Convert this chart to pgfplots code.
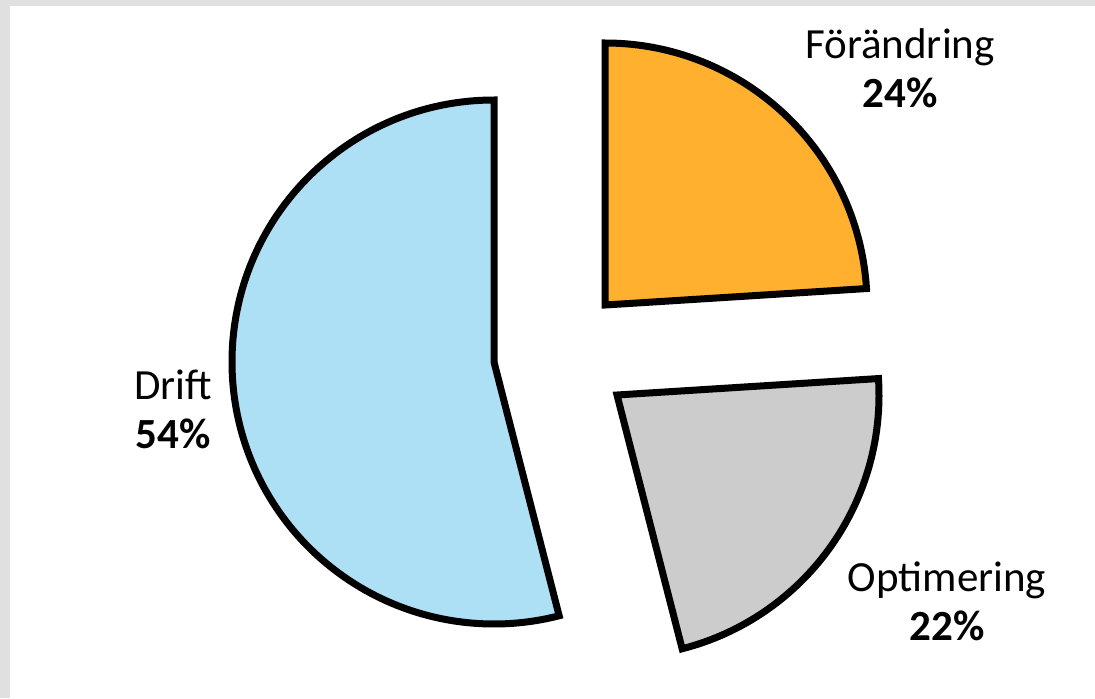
\documentclass[border=0pt]{standalone}
\usepackage{pgfplots}
\pgfplotsset{compat=1.18}
\usepackage{fontspec}
\setmainfont{Carlito}
\definecolor{bgray}{RGB}{224,224,224}
\definecolor{cdrift}{RGB}{174,224,245}
\definecolor{cforand}{RGB}{255,176,46}
\definecolor{coptim}{RGB}{204,204,204}
\begin{document}
\begin{tikzpicture}
\begin{axis}[
  scale only axis, width=547.5pt, height=349pt,
  xmin=0, xmax=1095, ymin=0, ymax=698,
  hide axis, clip=false,
]
% background
\fill[bgray] (axis cs:0,0) rectangle (axis cs:1095,698);
\fill[white] (axis cs:10,0) rectangle (axis cs:1095,692);
% slices: Drift 54%, Förändring 24%, Optimering 22% (radius 262 px = 131pt)
\filldraw[fill=cdrift, draw=black, line width=3.5pt]
  (axis cs:494,336) -- ++(90:131pt) arc[start angle=90, end angle=284.4, radius=131pt] -- cycle;
\filldraw[fill=cforand, draw=black, line width=3.5pt]
  (axis cs:605,393) -- ++(90:131pt) arc[start angle=90, end angle=3.6, radius=131pt] -- cycle;
\filldraw[fill=coptim, draw=black, line width=3.5pt]
  (axis cs:617,303) -- ++(3.6:131pt) arc[start angle=3.6, end angle=-75.6, radius=131pt] -- cycle;
% labels
\node[align=center, font=\fontsize{21.5}{24.5}\selectfont] at (axis cs:900,630) {Förändring\\\textbf{24\%}};
\node[align=center, font=\fontsize{21.5}{24.5}\selectfont] at (axis cs:173,289) {Drift\\\textbf{54\%}};
\node[align=center, font=\fontsize{21.5}{24.5}\selectfont] at (axis cs:947,97) {Optimering\\\textbf{22\%}};
\end{axis}
\end{tikzpicture}
\end{document}
